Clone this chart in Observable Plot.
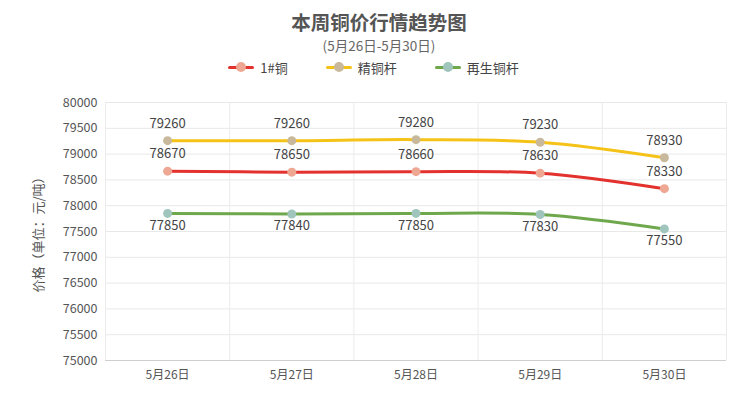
<!DOCTYPE html>
<html>
<head>
<meta charset="utf-8">
<script src="https://cdn.jsdelivr.net/npm/d3@7"></script>
<script src="https://cdn.jsdelivr.net/npm/@observablehq/plot@0.6"></script>
<style>
  html, body { margin: 0; padding: 0; background: #fff; }
  body { width: 755px; height: 414px; overflow: hidden; font-family: "Noto Sans CJK SC", "Noto Sans", sans-serif; }
  #title { position: absolute; top: 11px; left: 0; width: 755px; text-align: center; font-size: 19.5px; font-weight: bold; color: #555; height: 22px; line-height: 22px; padding-left: 3px; box-sizing: border-box; }
  #subtitle { position: absolute; top: 38px; left: 0; width: 755px; text-align: center; font-size: 13.5px; color: #666; height: 15px; line-height: 15px; padding-left: 3px; box-sizing: border-box; }
  #legend { position: absolute; top: 58px; left: 0; width: 755px; display: flex; justify-content: center; gap: 38px; height: 18px; font-size: 13px; color: #444; padding-right: 8px; box-sizing: border-box; }
  .item { display: flex; align-items: center; gap: 6px; }
  .sw { position: relative; width: 26px; height: 10px; }
  .sw .ln { position: absolute; left: 0; right: 0; top: 3.5px; height: 3px; border-radius: 2px; }
  .sw .dt { position: absolute; left: 8px; top: 0; width: 10px; height: 10px; border-radius: 50%; }
  #chart { position: absolute; top: 82px; left: 0; }
</style>
</head>
<body>
<div id="title">本周铜价行情趋势图</div>
<div id="subtitle">(5月26日-5月30日)</div>
<div id="legend"></div>
<div id="chart"></div>
<script>
const dates = ["5月26日", "5月27日", "5月28日", "5月29日", "5月30日"];
const seriesNames = ["1#铜", "精铜杆", "再生铜杆"];
const copper1 = [78670, 78650, 78660, 78630, 78330];
const copperRod = [79260, 79260, 79280, 79230, 78930];
const recycledRod = [77850, 77840, 77850, 77830, 77550];
const yTicks = [75000, 75500, 76000, 76500, 77000, 77500, 78000, 78500, 79000, 79500, 80000];

const lineColors = ["#e3312d", "#f5c317", "#6fa84c"];
const dotColors = ["#eea792", "#c9b99c", "#9fc5bd"];
const labelDy = [-17, -17, 12];

const valuesBySeries = [copper1, copperRod, recycledRod];
const data = [];
valuesBySeries.forEach((vals, s) => {
  vals.forEach((v, i) => data.push({series: seriesNames[s], s, i, x: i + 0.5, date: dates[i], value: v}));
});

// legend
const legend = document.getElementById("legend");
seriesNames.forEach((name, s) => {
  const it = document.createElement("div");
  it.className = "item";
  it.innerHTML = `<div class="sw"><div class="ln" style="background:${lineColors[s]}"></div><div class="dt" style="background:${dotColors[s]}"></div></div><span>${name}</span>`;
  legend.appendChild(it);
});

const bounds = d3.range(dates.length + 1);
const centers = dates.map((d, i) => i + 0.5);
const fmtX = (d) => dates[Math.round(d - 0.5)];

const chart = Plot.plot({
  width: 755,
  height: 318,
  marginLeft: 105,
  marginRight: 29,
  marginTop: 20,
  marginBottom: 40,
  style: {fontFamily: "'Noto Sans CJK SC', 'Noto Sans', sans-serif", fontSize: "12px", color: "#555", background: "#fff"},
  x: {type: "linear", domain: [0, dates.length]},
  y: {domain: [75000, 80000]},
  color: {domain: seriesNames, range: lineColors},
  marks: [
    Plot.gridY(yTicks, {stroke: "#e8e8e8", strokeOpacity: 1}),
    Plot.ruleX(bounds, {stroke: "#ececec", strokeOpacity: 1}),
    Plot.ruleY([75000], {stroke: "#cfcfcf"}),
    Plot.axisX({ticks: centers, tickFormat: fmtX, tickSize: 0, tickPadding: 10, fontSize: 12, fill: "#555", label: null}),
    Plot.axisY({ticks: yTicks, tickFormat: "d", tickSize: 0, tickPadding: 8, fontSize: 12.5, fill: "#555", label: null}),
    Plot.axisY({ticks: [], tickSize: 0, fontSize: 13, fill: "#555", label: "价格（单位：元/吨）", labelAnchor: "center", labelArrow: "none", labelOffset: 72}),
    Plot.line(data, {x: "x", y: "value", z: "series", stroke: "series", strokeWidth: 3, curve: "catmull-rom"}),
    Plot.dot(data, {x: "x", y: "value", r: 4.5, fill: (d) => dotColors[d.s], stroke: null}),
    ...[0, 1, 2].map((s) => Plot.text(data.filter((d) => d.s === s), {x: "x", y: "value", text: (d) => String(d.value), dy: labelDy[s], fontSize: 13, fill: "#444"}))
  ]
});
document.getElementById("chart").appendChild(chart);
</script>
</body>
</html>
